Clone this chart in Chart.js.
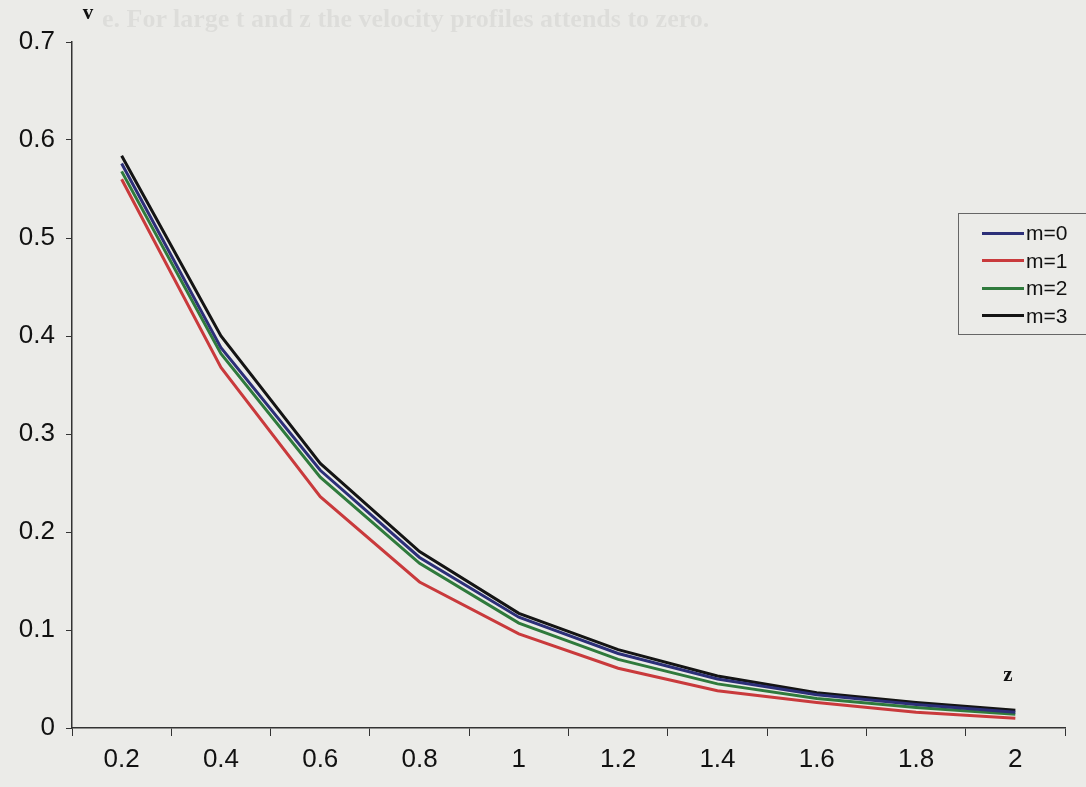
<!DOCTYPE html>
<html>
<head>
<meta charset="utf-8">
<script src="https://cdn.jsdelivr.net/npm/chart.js@4"></script>
<style>
  html, body { margin: 0; padding: 0; background: #ebebe8; }
  #wrap { position: relative; width: 1086px; height: 787px; overflow: hidden; }
  #ghost { position: absolute; left: 102px; top: 4px; font: bold 26px 'Liberation Serif', serif; color: rgba(0,0,0,0.06); white-space: nowrap; }
  #legend { position: absolute; left: 958px; top: 213px; width: 150px; height: 122px; border: 1px solid #666; box-sizing: border-box; }
  .row { position: absolute; left: 23px; height: 24px; display: flex; align-items: center; font: 21px 'Liberation Sans', Arial, sans-serif; color: #111; }
  .row span { display: inline-block; width: 42px; height: 3px; margin-right: 2px; }
</style>
</head>
<body>
<div id="wrap">
  <canvas id="chart" width="1086" height="787"></canvas>
  <div id="ghost">e. For large t and z the velocity profiles attends to zero.</div>
  <div id="legend"></div>
</div>
<script>
const zLabels = ['0.2', '0.4', '0.6', '0.8', '1', '1.2', '1.4', '1.6', '1.8', '2'];

const m0 = [0.576, 0.388, 0.263, 0.174, 0.113, 0.076, 0.050, 0.034, 0.024, 0.016];
const m1 = [0.560, 0.368, 0.236, 0.149, 0.096, 0.061, 0.038, 0.026, 0.016, 0.010];
const m2 = [0.568, 0.382, 0.256, 0.168, 0.107, 0.070, 0.045, 0.030, 0.021, 0.014];
const m3 = [0.584, 0.400, 0.270, 0.180, 0.117, 0.080, 0.053, 0.036, 0.026, 0.018];

const seriesNames = ['m=0', 'm=1', 'm=2', 'm=3'];
const seriesColors = ['#2c2f78', '#c93a3c', '#2f7a3c', '#141414'];

// axis letters v and z sit inside the plot
const axisLetters = {
    id: 'axisLetters',
    afterDraw(chart) {
        const c = chart.ctx;
        const area = chart.chartArea;
        c.save();
        c.fillStyle = '#111';
        c.font = "bold 21px 'Liberation Serif', serif";
        c.textAlign = 'center';
        c.textBaseline = 'middle';
        c.fillText('v', area.left + 16, area.top - 28);
        c.fillText('z', area.right - 57, area.bottom - 52);
        c.restore();
    }
};

const ctx = document.getElementById('chart').getContext('2d');
new Chart(ctx, {
    type: 'line',
    data: {
        labels: zLabels,
        datasets: [m0, m1, m2, m3].map((d, i) => ({
            label: seriesNames[i],
            data: d,
            borderColor: seriesColors[i],
            backgroundColor: seriesColors[i],
            borderWidth: 3,
            pointRadius: 0,
            tension: 0
        }))
    },
    options: {
        responsive: false,
        animation: false,
        layout: { padding: { left: 0, right: 21, top: 42, bottom: 0 } },
        plugins: {
            legend: { display: false },
            tooltip: { enabled: false }
        },
        scales: {
            x: {
                offset: true,
                grid: { offset: true, drawOnChartArea: false, drawTicks: true, tickLength: 8, color: '#333' },
                border: { display: true, color: '#333', width: 1.5 },
                ticks: { color: '#111', padding: 8, maxRotation: 0, font: { size: 26, family: "'Liberation Sans', Arial, sans-serif" } },
                afterFit(scale) { scale.height = 59; }
            },
            y: {
                min: 0,
                max: 0.7,
                grid: { drawOnChartArea: false, drawTicks: true, tickLength: 6, color: '#333' },
                border: { display: true, color: '#333', width: 1.5 },
                ticks: { stepSize: 0.1, color: '#111', padding: 11, font: { size: 26, family: "'Liberation Sans', Arial, sans-serif" },
                         callback: v => String(Math.round(v * 10) / 10) },
                afterFit(scale) { scale.width = 72; }
            }
        }
    },
    plugins: [axisLetters]
});

const legend = document.getElementById('legend');
seriesNames.forEach((name, i) => {
    const row = document.createElement('div');
    row.className = 'row';
    row.style.top = (7 + i * 27.5) + 'px';
    row.innerHTML = '<span style="background:' + seriesColors[i] + '"></span>' + name;
    legend.appendChild(row);
});
</script>
</body>
</html>
